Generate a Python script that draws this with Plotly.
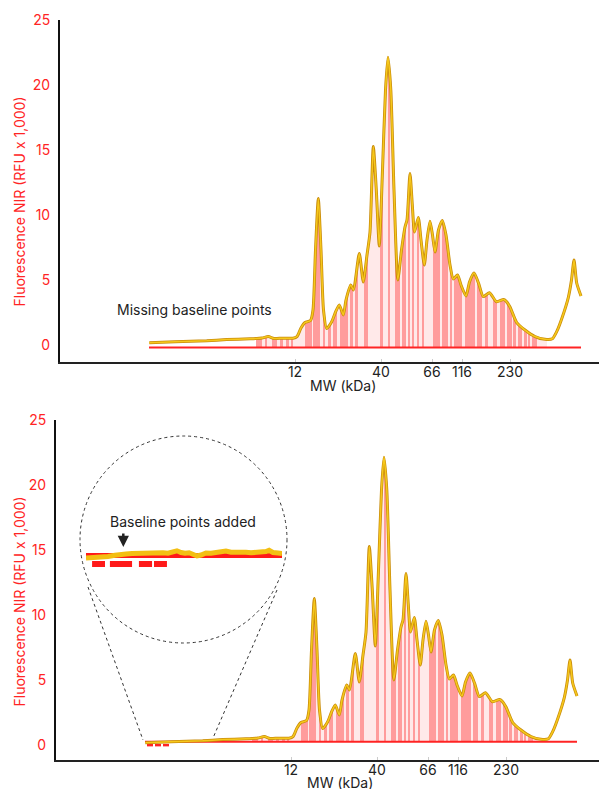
import numpy as np
import plotly.graph_objects as go

# ---------------- data ----------------
# electropherogram trace (x = migration position, y = RFU x 1,000)
trace_x = [89.3, 115, 146.7, 166.7, 190, 202, 208.3, 214, 222, 233, 237, 241, 245, 250.5, 253,
           255.5, 258.3, 261, 263.5, 266.7, 271.7, 276, 279.3, 283.3, 286, 290.7, 293.5, 299.3,
           303.3, 307, 310, 313.3, 316.3, 319.3, 322.5, 325.5, 328, 330.8, 334, 337.8, 341.5,
           345, 347, 350, 352.3, 354.5, 358.3, 361, 364.3, 367, 370, 372.5, 375, 378.5, 382.3,
           386, 390, 393.3, 397.5, 401, 406, 409.5, 414, 418.5, 423.3, 429.5, 436.5, 443.5,
           446, 450, 456.7, 465, 475, 485, 492.3, 497, 502, 508.3, 511.5, 514, 516.7, 521]
trace_y = [0.18, 0.25, 0.33, 0.42, 0.48, 0.54, 0.65, 0.50, 0.52, 0.52, 0.65, 1.31, 1.73, 1.88, 2.69,
           7.31, 11.27, 7.31, 2.69, 1.27, 1.79, 2.62, 3.08, 2.31, 3.46, 4.62, 4.23, 7.04,
           4.85, 6.92, 8.69, 15.27, 11.92, 7.62, 13.46, 19.62, 22.13, 19.62, 11.92, 5.0, 7.31,
           9.08, 9.62, 13.19, 10.77, 8.69, 9.81, 8.08, 6.15, 8.08, 9.52, 8.46, 7.15, 8.85, 9.58,
           8.46, 6.15, 5.08, 5.38, 4.62, 3.77, 4.85, 5.54, 4.77, 3.72, 4.02, 3.33, 3.5,
           3.38, 2.92, 1.73, 1.15, 0.65, 0.44, 0.48, 1.08, 2.08, 3.65, 5.0, 6.54, 4.77, 3.77]

# peak-segment bands (dark stripes) along x
band_start = [196, 205, 212, 220, 226, 231, 245, 253, 263, 268, 273, 280, 290, 295, 304, 320, 328,
              335, 342, 348, 352, 357, 362, 373, 382, 390, 394, 405, 417, 425, 433, 440, 447, 453,
              458, 464, 468, 472]
band_end = [202, 207, 217, 223, 229, 233, 252, 260, 265, 271, 277, 288, 293, 298, 308, 323, 330,
            340, 346, 350, 354, 359, 364, 380, 388, 392, 402, 415, 422, 428, 437, 445, 452, 456,
            462, 467, 470, 477]
fill_range = [196, 487]

baseline_x = [89, 521]
baseline_top = -0.2      # baseline fit without added points
baseline_bottom = 0.25   # baseline fit with added points
added_points = [[91, 97], [99, 105], [107, 113]]

mw_pos = [235, 321, 372, 402, 450]
mw_labels = ["12", "40", "66", "116", "230"]
y_ticks = [0, 5, 10, 15, 20, 25]

# magnified baseline (inset)
zoom_x = [0, 3.1, 7.1, 11.2, 14.8, 17.3, 20.4, 23.5, 26.5, 29.1, 31.6, 34.2, 36.7, 39.3, 41.8,
          44.4, 46.4, 48.5, 50.5, 52.6, 54.6, 56.6, 58.7, 61.2, 63.8, 66.3, 68.9, 71.4, 74,
          76.5, 79.1, 81.6, 84.2, 86.7, 89.3, 91.8, 93.4, 95.4, 98, 100]
zoom_y = [-3, -2.8, -2, -1.5, -0.3, 0.7, 1, 1.5, 1.7, 2.5, 2, 2.4, 1.8, 2.2, 1.8,
          2.5, 4.2, 2.5, 1.7, 2.2, 0.5, -1, 0, 2, 1.8, 2.5, 3.2, 4, 2.8,
          3, 2.2, 2.8, 2.2, 2.7, 2.3, 3.5, 4.7, 2.5, 2, 1.5]
zoom_base = -0.5
zoom_points = [[3.1, 9.7], [12.2, 23.5], [27.0, 33.7], [34.7, 41.3]]
zoom_points_y = -9

# ---------------- helpers ----------------
W, H = 599, 789
RED = "#ff2424"
FONT = "Inter"
tx = np.array(trace_x)
ty = np.array(trace_y)


def band_poly(a, b, base):
    inner = (tx > a) & (tx < b)
    xs = [a, a] + list(tx[inner]) + [b, b]
    ys = [base, float(np.interp(a, tx, ty))] + list(ty[inner]) + [float(np.interp(b, tx, ty)), base]
    return xs, ys


def px(x):
    return x / W


def py(y):
    return 1 - y / H


fig = go.Figure()

for k, (xa, ya, base) in enumerate([("x", "y", baseline_top), ("x2", "y2", baseline_bottom)]):
    # light fill
    xs, ys = band_poly(fill_range[0], fill_range[1], base)
    fig.add_trace(go.Scatter(x=xs, y=ys, fill="toself", fillcolor="#ffe9e9", mode="none",
                             xaxis=xa, yaxis=ya, hoverinfo="skip", showlegend=False))
    # dark stripes
    X, Y = [], []
    for a, b in zip(band_start, band_end):
        xs, ys = band_poly(a, b, base)
        X += xs + [None]
        Y += ys + [None]
    fig.add_trace(go.Scatter(x=X, y=Y, fill="toself", fillcolor="#ff9c9c", mode="none",
                             xaxis=xa, yaxis=ya, hoverinfo="skip", showlegend=False))
    # baseline
    fig.add_trace(go.Scatter(x=baseline_x, y=[base, base], mode="lines",
                             line=dict(color=RED, width=2), xaxis=xa, yaxis=ya, showlegend=False))
    if k == 1:
        X, Y = [], []
        for a, b in added_points:
            X += [a, b, None]
            Y += [base - 0.26, base - 0.26, None]
        fig.add_trace(go.Scatter(x=X, y=Y, mode="lines", line=dict(color=RED, width=2.5),
                                 xaxis=xa, yaxis=ya, showlegend=False))
    # trace line
    fig.add_trace(go.Scatter(x=trace_x, y=trace_y, mode="lines",
                             line=dict(color="#c98c0a", width=3.0, shape="spline", smoothing=0.6),
                             xaxis=xa, yaxis=ya, showlegend=False))
    fig.add_trace(go.Scatter(x=trace_x, y=trace_y, mode="lines",
                             line=dict(color="#f6c81c", width=1.5, shape="spline", smoothing=0.6),
                             xaxis=xa, yaxis=ya, showlegend=False))

# inset (magnified baseline)
fig.add_trace(go.Scatter(x=[0, 100], y=[zoom_base, zoom_base], mode="lines",
                         line=dict(color="#ff1a1a", width=5), xaxis="x3", yaxis="y3", showlegend=False))
fig.add_trace(go.Scatter(x=zoom_x, y=zoom_y, mode="lines",
                         line=dict(color="#f3bf12", width=5), xaxis="x3", yaxis="y3", showlegend=False))
X, Y = [], []
for a, b in zoom_points:
    X += [a, b, None]
    Y += [zoom_points_y, zoom_points_y, None]
fig.add_trace(go.Scatter(x=X, y=Y, mode="lines", line=dict(color="#ff1a1a", width=6),
                         xaxis="x3", yaxis="y3", showlegend=False))

xcommon = dict(showgrid=False, zeroline=False, showline=True, linecolor="#222", linewidth=2,
               automargin=False, ticklabelstandoff=-4,
               tickmode="array", tickvals=mw_pos, ticktext=mw_labels, ticks="inside", ticklen=3,
               tickcolor="#cccccc", tickfont=dict(family=FONT, size=14, color="#222"))
ycommon = dict(showgrid=False, zeroline=False, showline=True, linecolor="#111", linewidth=2,
               automargin=False,
               tickmode="array", tickvals=y_ticks, ticks="", ticklabelstandoff=5,
               tickfont=dict(family=FONT, size=14, color=RED))

fig.update_layout(
    template="none",
    width=W, height=H, margin=dict(l=0, r=0, t=0, b=0, pad=0, autoexpand=False),
    paper_bgcolor="white", plot_bgcolor="white",
    xaxis=dict(domain=[px(60), 1], range=[0, 539], anchor="y", **xcommon),
    yaxis=dict(domain=[py(362), py(20)], range=[-17 / 13, 25], anchor="x", **ycommon),
    xaxis2=dict(domain=[px(56), 1], range=[0, 543], anchor="y2", **xcommon),
    yaxis2=dict(domain=[py(760), py(420)], range=[-15 / 13, 25], anchor="x2", **ycommon),
    xaxis3=dict(domain=[px(86), px(282)], range=[0, 100], visible=False, anchor="y3"),
    yaxis3=dict(domain=[py(570), py(540)], range=[-15, 15], visible=False, anchor="x3"),
)

shapes = [
    dict(type="circle", xref="paper", yref="paper", x0=px(80), x1=px(287), y0=py(643), y1=py(436),
         line=dict(color="#333", width=1, dash="dot")),
    dict(type="line", xref="paper", yref="paper", x0=px(88), y0=py(587), x1=px(143), y1=py(740),
         line=dict(color="#333", width=1, dash="dot")),
    dict(type="line", xref="paper", yref="paper", x0=px(277), y0=py(590), x1=px(213), y1=py(738),
         line=dict(color="#333", width=1, dash="dot")),
]
fig.update_layout(shapes=shapes)


def label(text, x, y, color="#222", angle=0):
    return dict(text=text, x=px(x), y=py(y), xref="paper", yref="paper", showarrow=False,
                xanchor="center", yanchor="middle", textangle=angle,
                font=dict(family=FONT, size=14, color=color))


ann = [
    label("Missing baseline points", 194.5, 309),
    label("Baseline points added", 183, 521),
    dict(text="", x=px(123.3), y=py(547), xref="paper", yref="paper", showarrow=True,
         ax=0, ay=-15, arrowhead=2, arrowsize=0.9, arrowwidth=2.5, arrowcolor="#222"),
    label("MW (kDa)", 343, 385),
    label("MW (kDa)", 340, 782),
    label("Fluorescence NIR (RFU x 1,000)", 19, 201.5, RED, -90),
    label("Fluorescence NIR (RFU x 1,000)", 19, 601.5, RED, -90),
]
fig.update_layout(annotations=ann)

fig.write_html("out.html", config={"displayModeBar": False},
               post_script="document.body.style.margin='0';document.body.style.overflow='hidden';")
